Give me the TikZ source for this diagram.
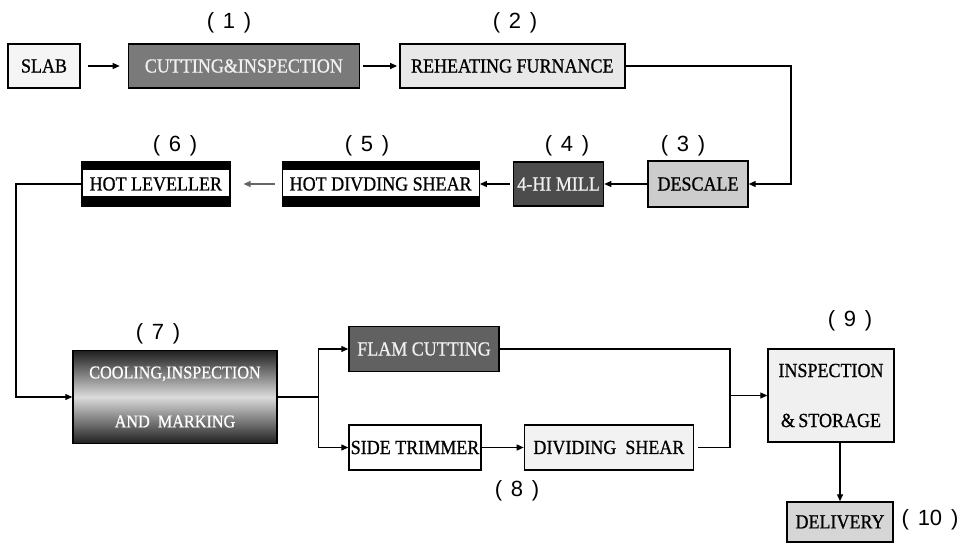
\documentclass[tikz,border=0pt]{standalone}
\usepackage{fontspec}
\setmainfont{Liberation Serif}[FakeStretch=0.9, RawFeature={embolden=0.8}]
\newfontfamily\numfont{Liberation Sans}
\usetikzlibrary{positioning,arrows.meta}

\newcommand{\stagenum}[1]{(\hspace{0.4em}#1\hspace{0.4em})}

\begin{document}
\begin{tikzpicture}[
        x=1pt, y=-1pt,
        font=\fontsize{20}{23}\selectfont,
        >={Triangle[length=7pt,width=6pt]},
        flow/.style={draw, line width=1.2pt},
        box/.style={rectangle, draw, line width=1.4pt, inner sep=0pt, align=center,
                    minimum height=44pt},
        pale/.style={box, fill=black!6},
        grey/.style={box, fill=black!20},
        dark/.style={box, fill=black!62, text=black!6},
        band/.style={box, fill=black,
                     path picture={\fill[white] ([yshift=-8pt]path picture bounding box.north west)
                                   rectangle ([yshift=10pt]path picture bounding box.south east);}},
        num/.style={font=\numfont\fontsize{22}{24}\selectfont, inner sep=0pt},
    ]
        \useasboundingbox (0,0) rectangle (966,545);

        % row 1
        \node[pale, fill=black!4, minimum width=72pt] (slab) at (44,66) {SLAB};
        \node[dark, fill=black!52, minimum width=231pt, right=47pt of slab] (cut) {CUTTING\&INSPECTION};
        \node[pale, fill=black!9, minimum width=225pt, right=39pt of cut] (reheat) {REHEATING FURNANCE};

        % row 2
        \node[grey, minimum width=100pt, minimum height=46pt] (descale) at (698,184) {DESCALE};
        \node[dark, fill=black!70, minimum width=90pt, left=43pt of descale] (mill) {4-HI MILL};
        \node[band, minimum width=197pt, left=33pt of mill] (hds) {HOT DIVDING SHEAR};
        \node[band, minimum width=148pt, left=51pt of hds] (lev) {HOT LEVELLER};

        % row 3
        \node[box, minimum width=204pt, minimum height=93pt, text=white, font=\fontsize{18}{21}\selectfont,
              top color=black!88, bottom color=black!88, middle color=black!14] (cool)
              at (175,397) {COOLING,INSPECTION\\[28pt]AND\ \ MARKING};
        \node[dark, minimum width=150pt, minimum height=45pt] (flam) at (424,349) {FLAM CUTTING};
        \node[box, minimum width=132pt, minimum height=45pt] (trim) at (415,447.5) {SIDE TRIMMER};
        \node[pale, fill=black!5, minimum width=169pt, minimum height=45pt, right=42pt of trim] (divs) {DIVIDING\ \ SHEAR};
        \node[pale, minimum width=126pt, minimum height=93pt] (insp) at (831,395.5) {INSPECTION\\[27pt]\&\,STORAGE};
        \node[pale, fill=black!16, minimum width=106pt, minimum height=40pt] (deliv) at (840,522) {DELIVERY};

        % stage numbers
        \node[num] (n1) at (229,23) {\stagenum{1}};
        \node[num] (n2) at (515,23) {\stagenum{2}};
        \node[num] (n3) at (683,146) {\stagenum{3}};
        \node[num] (n4) at (567,146) {\stagenum{4}};
        \node[num] (n5) at (367,146) {\stagenum{5}};
        \node[num] (n6) at (175,146) {\stagenum{6}};
        \node[num] (n7) at (158,334) {\stagenum{7}};
        \node[num] (n8) at (517,491) {\stagenum{8}};
        \node[num] (n9) at (850,321) {\stagenum{9}};
        \node[num] (n10) at (930,520) {\stagenum{10}};

        % connectors
        \draw[flow, ->, shorten <=7pt, shorten >=8pt] (slab) -- (cut);
        \draw[flow, ->, shorten <=3pt, shorten >=2pt] (cut) -- (reheat);
        \coordinate (rturn) at (791,66);
        \draw[flow, ->] (reheat.east) -- (rturn) |- (descale.east);
        \draw[flow, ->] (descale) -- (mill);
        \draw[flow, ->, shorten <=3pt] (mill) -- (hds);
        \draw[flow, ->, shorten <=7pt, shorten >=13pt, draw=black!60] (hds) -- (lev);
        \coordinate (lturn) at (16,184);
        \draw[flow, ->] (lev.west) -- (lturn) |- (cool.west);
        \draw[flow] (cool.east) -- ++(41,0) coordinate (split);
        \draw[flow, ->] (split) |- (flam.west);
        \draw[flow, ->] (split) |- (trim.west);
        \draw[flow, ->] (trim) -- (divs);
        \coordinate (join) at (730,395.5);
        \draw[flow] (flam.east) -| (join);
        \draw[flow, shorten <=4pt] (divs.east) -| (join);
        \draw[flow, ->] (join) -- (insp.west);
        \draw[flow, ->] (insp.south -| deliv.north) -- (deliv.north);
    \end{tikzpicture}
\end{document}
